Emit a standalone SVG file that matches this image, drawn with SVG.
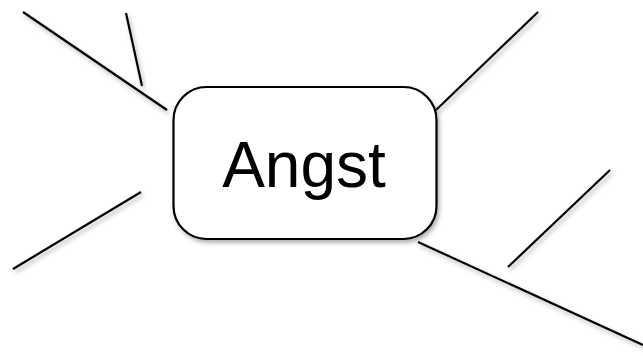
<svg xmlns="http://www.w3.org/2000/svg" width="643" height="356" viewBox="0 0 643 356">
<defs>
<filter id="sh" x="-20%" y="-20%" width="140%" height="140%">
<feDropShadow dx="2" dy="3" stdDeviation="2" flood-color="#000" flood-opacity="0.3"/>
</filter>
<style>
.c{stroke:#000;stroke-width:2.2;fill:none;filter:url(#sh)}
.box{fill:#fff;stroke:#000;stroke-width:2.2;filter:url(#sh)}
.t{font-family:"Liberation Sans",Arial,sans-serif;font-size:64px;fill:#000}
</style>
</defs>
<rect width="643" height="356" fill="#fff"/>
<g id="connectors">
<line class="c" x1="23" y1="12" x2="167" y2="110"/>
<line class="c" x1="126" y1="13" x2="142" y2="86"/>
<line class="c" x1="436" y1="110" x2="538" y2="12"/>
<line class="c" x1="141" y1="192" x2="13" y2="269"/>
<line class="c" x1="610" y1="170" x2="508" y2="267"/>
<line class="c" x1="418" y1="242" x2="643" y2="345"/>
</g>
<g id="angst">
<rect class="box" x="173.5" y="87" width="263" height="152" rx="33" ry="33"/>
<text class="t" x="304" y="187" text-anchor="middle">Angst</text>
</g>
</svg>
